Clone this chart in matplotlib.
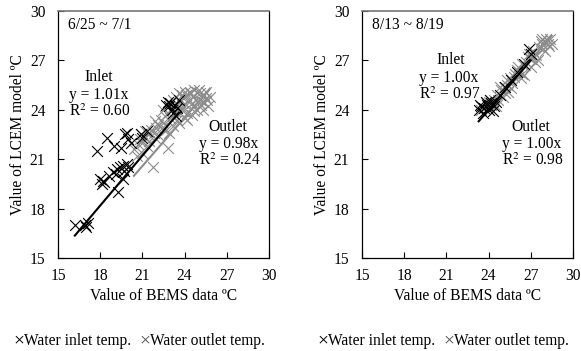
import matplotlib
matplotlib.use("Agg")
import matplotlib.pyplot as plt
import numpy as np

plt.rcParams['font.family'] = ['Liberation Serif', 'DejaVu Serif']
plt.rcParams['mathtext.fontset'] = 'stix'

# ---- data ----
ticks = [15, 18, 21, 24, 27, 30]

# Panel 1: 6/25 ~ 7/1
p1_in_x = [16.2, 16.9, 17.0, 17.1, 17.8, 18.5, 19.0, 19.5, 19.8, 20.0, 19.9, 20.2, 18.0, 18.1,
           18.3, 18.6, 18.9, 19.2, 19.4, 19.6, 19.7, 19.9, 20.0, 19.3, 19.6, 20.9, 21.0, 21.3,
           22.8, 22.9, 23.0, 23.1, 23.3, 23.5, 23.2, 23.6, 22.7, 23.4, 18.2, 19.1]
p1_in_y = [17.0, 17.0, 16.9, 17.1, 21.5, 22.3, 21.8, 21.7, 22.5, 22.2, 22.6, 22.0, 19.8, 19.5,
           19.6, 20.0, 20.2, 20.4, 20.5, 20.6, 20.3, 20.7, 20.5, 19.0, 19.8, 22.5, 22.3, 22.7,
           24.5, 24.2, 24.4, 24.0, 24.3, 24.1, 23.8, 24.6, 24.3, 23.6, 19.7, 20.1]
p1_out_x = [20.4, 20.7, 21.0, 21.2, 21.5, 21.8, 22.0, 22.2, 22.5, 22.7, 23.0, 23.2, 23.4, 23.6,
            23.8, 24.0, 24.2, 24.4, 24.5, 24.7, 24.9, 25.1, 25.3, 25.5, 25.7, 25.8, 24.0, 24.5,
            23.5, 22.8, 22.3, 21.6, 21.0, 21.75, 22.8, 24.8, 25.2, 23.9, 24.3, 24.6, 25.0, 25.4,
            22.6, 23.1, 23.7, 22.1, 21.4, 20.8, 24.1, 24.9, 25.6, 23.3, 23.9, 22.4, 20.6, 21.3,
            21.9, 22.9, 23.6, 24.2, 24.7, 25.3, 25.0, 24.4, 23.8, 23.2, 22.5, 21.9, 21.2, 20.9,
            25.5, 25.1, 24.6, 24.1, 23.4]
p1_out_y = [21.6, 21.9, 22.0, 22.3, 22.1, 22.6, 22.9, 22.4, 23.2, 22.8, 23.5, 23.0, 24.8, 25.0,
            24.2, 25.1, 23.8, 25.0, 24.4, 25.2, 24.0, 25.0, 24.5, 25.1, 24.2, 24.8, 23.5, 23.7,
            23.4, 23.8, 23.4, 22.8, 21.4, 20.5, 21.7, 24.6, 24.3, 24.7, 24.6, 24.8, 24.4, 24.9,
            23.6, 24.1, 24.5, 23.1, 22.5, 22.2, 24.3, 25.1, 24.6, 23.9, 23.9, 22.9, 21.2, 21.8,
            22.3, 22.6, 23.2, 23.4, 23.9, 24.0, 25.2, 25.1, 24.9, 24.6, 24.0, 23.3, 22.7, 22.5,
            24.7, 24.6, 24.2, 24.9, 24.4]
p1_in_slope, p1_in_r2 = 1.01, 0.60
p1_out_slope, p1_out_r2 = 0.98, 0.24

# Panel 2: 8/13 ~ 8/19
p2_in_x = [23.3, 23.5, 23.7, 23.9, 24.0, 24.2, 24.4, 23.6, 23.8, 24.1, 24.5, 24.8, 25.2,
           25.6, 26.0, 26.5, 27.0, 26.9, 23.4, 24.3]
p2_in_y = [24.0, 24.2, 24.1, 24.3, 24.0, 24.4, 24.2, 23.8, 24.5, 24.6, 24.5, 24.9, 25.4,
           25.8, 26.3, 26.8, 27.4, 27.7, 24.3, 23.9]
p2_out_x = [23.5, 23.8, 24.1, 24.4, 24.6, 24.9, 25.1, 25.3, 25.5, 25.8, 26.0, 26.2, 26.4,
            26.6, 26.8, 27.0, 27.2, 27.4, 27.6, 27.8, 28.0, 28.2, 28.4, 27.9, 25.0, 25.6,
            26.3, 27.0, 27.5, 24.5, 25.3, 26.1, 26.9, 28.1, 28.3, 27.7, 24.2, 24.8, 25.9, 26.7,
            24.0, 24.7, 25.2, 25.7, 26.5, 27.3, 28.0, 28.5, 27.8, 27.1, 26.4, 25.4]
p2_out_y = [24.0, 24.4, 24.6, 24.6, 24.9, 25.2, 25.4, 25.5, 25.9, 26.0, 26.4, 26.3, 26.8,
            26.7, 27.2, 27.1, 27.6, 27.3, 27.8, 28.0, 28.1, 28.0, 28.3, 27.7, 24.8, 25.3,
            25.9, 26.6, 27.0, 24.2, 25.8, 26.6, 27.4, 28.3, 27.9, 28.2, 24.3, 25.4, 26.2, 26.9,
            24.5, 24.6, 25.0, 25.6, 26.1, 26.9, 27.6, 28.0, 28.3, 27.2, 26.2, 25.1]
p2_in_slope, p2_in_r2 = 1.00, 0.97
p2_out_slope, p2_out_r2 = 1.00, 0.98

xlabel = "Value of BEMS data ºC"
ylabel = "Value of LCEM model ºC"
legend_mark = "×"
legend_in = "Water inlet temp."
legend_out = "Water outlet temp."

fig = plt.figure(figsize=(5.81, 3.51), dpi=100)
ax1 = fig.add_axes([0.0998, 0.265, 0.363, 0.7037])
ax2 = fig.add_axes([0.623, 0.265, 0.363, 0.7037])

gray = '#8c8c8c'
FS = 11.2


def panel(ax, inx, iny, outx, outy, islope, oslope, ir2, or2, period, in_txt_pos, out_txt_pos,
          in_center):
    ax.scatter(outx, outy, marker='x', s=60, c=gray, linewidths=0.8, zorder=2)
    ax.scatter(inx, iny, marker='x', s=60, c='black', linewidths=0.8, zorder=3)
    xo = np.array([min(outx), max(outx)])
    ax.plot(xo, oslope * xo, color=gray, lw=1.5, zorder=2.5)
    xi = np.array([min(inx), max(inx)])
    ax.plot(xi, islope * xi, color='black', lw=1.5, zorder=4)
    ax.set_xlim(15, 30)
    ax.set_ylim(15, 30)
    ax.set_xticks(ticks)
    ax.set_yticks(ticks)
    ax.tick_params(direction='in', length=4, width=0.8, labelsize=FS)
    ax.tick_params(axis='x', pad=7)
    ax.tick_params(axis='y', pad=9)
    for s in ['left', 'bottom', 'right']:
        ax.spines[s].set_color('black')
        ax.spines[s].set_linewidth(0.9)
    ax.spines['top'].set_color('#777777')
    ax.spines['top'].set_linewidth(1.2)
    ax.set_xlabel(xlabel, fontsize=FS, labelpad=3)
    ax.set_ylabel(ylabel, fontsize=FS, labelpad=3)
    ax.text(15.7, 29.15, period, fontsize=FS, ha='left', va='center')
    ax.text(in_center[0], in_center[1], "Inlet", fontsize=FS, ha='center', va='center')
    ax.text(in_txt_pos[0], in_txt_pos[1], f"y = {islope:.2f}x", fontsize=FS, ha='left', va='center')
    ax.text(in_txt_pos[0], in_txt_pos[1] - 1.03, f"R$^2$ = {ir2:.2f}", fontsize=FS,
            ha='left', va='center')
    ax.text(out_txt_pos[0] + 0.7, out_txt_pos[1] + 1.03, "Outlet", fontsize=FS, ha='left', va='center')
    ax.text(out_txt_pos[0], out_txt_pos[1], f"y = {oslope:.2f}x", fontsize=FS, ha='left', va='center')
    ax.text(out_txt_pos[0], out_txt_pos[1] - 1.03, f"R$^2$ = {or2:.2f}", fontsize=FS,
            ha='left', va='center')


panel(ax1, p1_in_x, p1_in_y, p1_out_x, p1_out_y, p1_in_slope, p1_out_slope, p1_in_r2, p1_out_r2,
      "6/25 ~ 7/1", (15.75, 24.9), (25.0, 21.92), (17.9, 26.0))
panel(ax2, p2_in_x, p2_in_y, p2_out_x, p2_out_y, p2_in_slope, p2_out_slope, p2_in_r2, p2_out_r2,
      "8/13 ~ 8/19", (19.05, 25.93), (24.95, 21.92), (21.33, 27.0))

ly = 1 - 341 / 351
for x0 in (13, 317):
    fig.text(x0 / 581, ly, legend_mark, fontsize=14, ha='left', va='center', color='black')
    fig.text((x0 + 11) / 581, ly, legend_in, fontsize=FS, ha='left', va='center')
    fig.text((x0 + 126) / 581, ly, legend_mark, fontsize=14, ha='left', va='center',
             color='#555555', fontweight='light')
    fig.text((x0 + 137) / 581, ly, legend_out, fontsize=FS, ha='left', va='center')

fig.savefig("out.png", dpi=100)
